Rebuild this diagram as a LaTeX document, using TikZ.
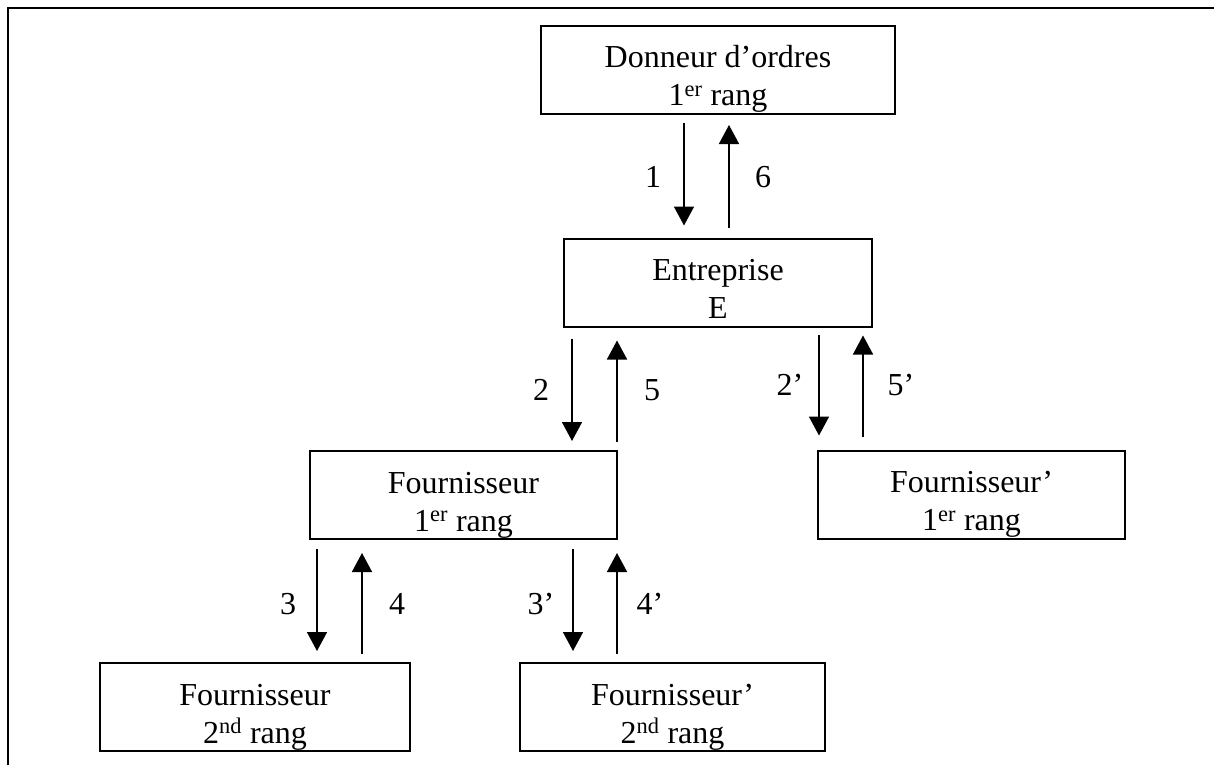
\documentclass[tikz,border=0pt]{standalone}
\usepackage{fontspec}
\setmainfont{Liberation Serif}
\usetikzlibrary{arrows.meta}
\begin{document}
\begin{tikzpicture}[x=1pt,y=-1pt,
  box/.style={draw, line width=2pt, rectangle, inner sep=0pt, align=center,
    font=\fontsize{32}{38}\selectfont},
  lbl/.style={inner sep=0pt, font=\fontsize{32}{38}\selectfont},
  arr/.style={line width=1.6pt, -{Triangle[width=20pt,length=19pt]}}]
\useasboundingbox (0,0) rectangle (1214,765);
\draw[line width=2pt] (8,765) -- (8,8) -- (1214,8);
% boxes
\node[box, minimum width=354pt] (d) at (718,70)
  {\rule{0pt}{42pt}Donneur d’ordres\\1\textsuperscript{er} rang\rule[-8pt]{0pt}{8pt}};
\node[box, minimum width=308pt] (e) at (718,282.5)
  {\rule{0pt}{42pt}Entreprise\\E\rule[-8pt]{0pt}{8pt}};
\node[box, minimum width=307pt] (f1) at (463.5,495)
  {\rule{0pt}{42pt}Fournisseur\\1\textsuperscript{er} rang\rule[-8pt]{0pt}{8pt}};
\node[box, minimum width=307pt] (g1) at (971.5,494.5)
  {\rule{0pt}{42pt}Fournisseur’\\1\textsuperscript{er} rang\rule[-8pt]{0pt}{8pt}};
\node[box, minimum width=310pt] (f2) at (255,707)
  {\rule{0pt}{42pt}Fournisseur\\2\textsuperscript{nd} rang\rule[-8pt]{0pt}{8pt}};
\node[box, minimum width=305pt] (g2) at (672.5,707)
  {\rule{0pt}{42pt}Fournisseur’\\2\textsuperscript{nd} rang\rule[-8pt]{0pt}{8pt}};
% arrow x positions
\coordinate (a1) at (684,0);
\coordinate (a6) at (729,0);
\coordinate (a2) at (572,0);
\coordinate (a5) at (617,0);
\coordinate (b2) at (819,0);
\coordinate (b5) at (863,0);
\coordinate (a3) at (317,0);
\coordinate (a4) at (362,0);
\coordinate (b3) at (573,0);
\coordinate (b4) at (617,0);
% arrows
\draw[arr, shorten <=8pt, shorten >=12pt] (d.south -| a1) -- (e.north -| a1);
\draw[arr, shorten <=10pt, shorten >=10pt] (e.north -| a6) -- (d.south -| a6);
\draw[arr, shorten <=11pt, shorten >=9pt] (e.south -| a2) -- (f1.north -| a2);
\draw[arr, shorten <=8pt, shorten >=13pt] (f1.north -| a5) -- (e.south -| a5);
\draw[arr, shorten <=7pt, shorten >=14pt] (e.south -| b2) -- (g1.north -| b2);
\draw[arr, shorten <=13pt, shorten >=8pt] (g1.north -| b5) -- (e.south -| b5);
\draw[arr, shorten <=9pt, shorten >=11pt] (f1.south -| a3) -- (f2.north -| a3);
\draw[arr, shorten <=8pt, shorten >=13pt] (f2.north -| a4) -- (f1.south -| a4);
\draw[arr, shorten <=9pt, shorten >=11pt] (f1.south -| b3) -- (g2.north -| b3);
\draw[arr, shorten <=8pt, shorten >=13pt] (g2.north -| b4) -- (f1.south -| b4);
% labels
\node[lbl] (l1) at (653,177) {1};
\node[lbl] (l6) at (763,177) {6};
\node[lbl] (l2) at (541,390) {2};
\node[lbl] (l5) at (652,390) {5};
\node[lbl] (l2p) at (790,385) {2’};
\node[lbl] (l5p) at (901,385) {5’};
\node[lbl] (l3) at (288,604) {3};
\node[lbl] (l4) at (397,604) {4};
\node[lbl] (l3p) at (541,604) {3’};
\node[lbl] (l4p) at (650,604) {4’};
\end{tikzpicture}
\end{document}
